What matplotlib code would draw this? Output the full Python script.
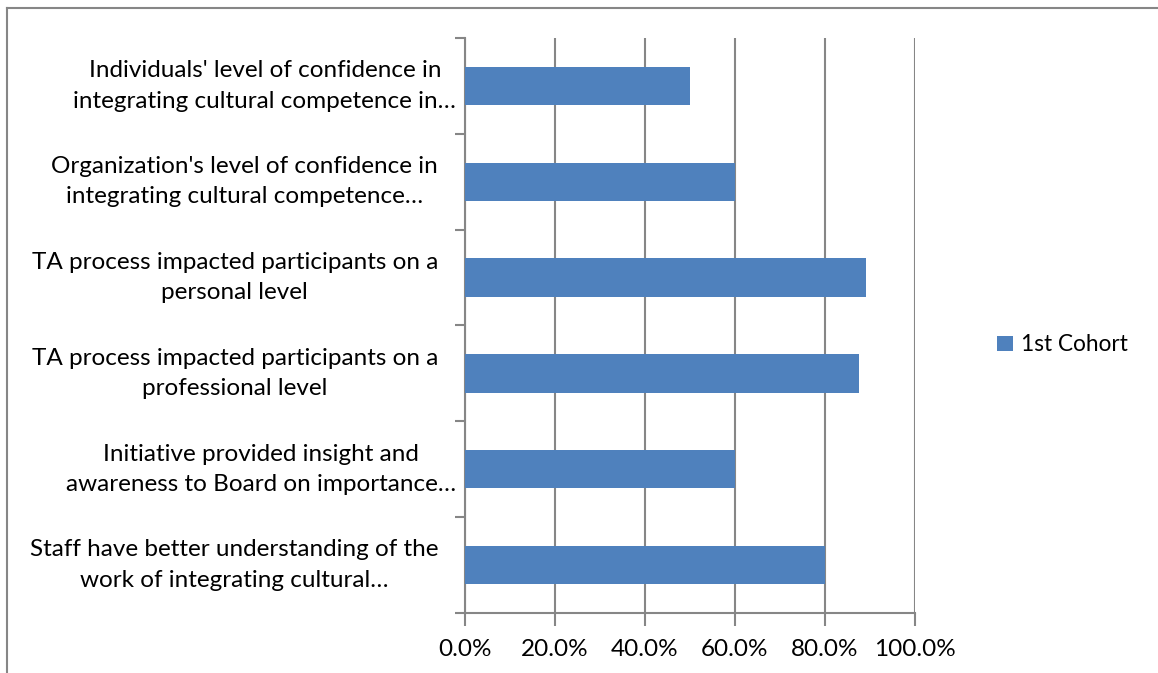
import numpy as np
import matplotlib.pyplot as plt
import matplotlib.transforms as mtransforms
from matplotlib.lines import Line2D
from matplotlib.ticker import FuncFormatter

plt.rcParams['font.family'] = ['Lato', 'DejaVu Sans']

# categories listed top to bottom, as in the chart
categories = [
    "Individuals' level of confidence in\nintegrating cultural competence in\u2026",
    "Organization's level of confidence in\nintegrating cultural competence\u2026",
    "TA process impacted participants on a\npersonal level",
    "TA process impacted participants on a\nprofessional level",
    "Initiative provided insight and\nawareness to Board on importance\u2026",
    "Staff have better understanding of the\nwork of integrating cultural\u2026",
]
cohort1 = [50.0, 60.0, 89.0, 87.5, 60.0, 80.0]
series_name = "1st Cohort"
xticks = [0, 20, 40, 60, 80, 100]

bar_color = "#4F81BD"
grid_color = "#868686"
fs = 17.5

fig = plt.figure(figsize=(11.58, 6.73), dpi=100)
ax = fig.add_axes([465 / 1158, 1 - 613 / 673, 450 / 1158, 575 / 673])

n = len(categories)
ypos = np.arange(n)[::-1]
ax.barh(ypos, cohort1, height=0.4, color=bar_color, label=series_name, zorder=3)

ax.set_xlim(0, 100)
ax.set_ylim(-0.5, n - 0.5)
ax.set_xticks(xticks)
ax.xaxis.set_major_formatter(FuncFormatter(lambda v, p: f"{v:.1f}%"))
ax.grid(axis='x', color=grid_color, linewidth=1.5, zorder=0)

ax.set_yticks(ypos)
ax.set_yticklabels([])
ax.set_yticks(np.arange(-0.5, n, 1.0), minor=True)
ax.tick_params(axis='y', which='major', length=0)
ax.tick_params(axis='y', which='minor', length=7, width=1.5, color=grid_color)
ax.tick_params(axis='x', length=9, width=1.5, color=grid_color, labelsize=fs, pad=10)

# category labels: right edge 27px left of the axis, trailing ellipsis allowed to hang out
renderer = fig.canvas.get_renderer()
base = mtransforms.blended_transform_factory(ax.transAxes, ax.transData)
for y, lab in zip(ypos, categories):
    t_full = fig.text(0, 0, lab, fontsize=fs, multialignment='center')
    t_trim = fig.text(0, 0, lab.replace("\u2026", ""), fontsize=fs, multialignment='center')
    hang = t_full.get_window_extent(renderer).width - t_trim.get_window_extent(renderer).width
    t_full.remove()
    t_trim.remove()
    off = mtransforms.ScaledTranslation((-27 + hang) / 100, 0, fig.dpi_scale_trans)
    ax.text(0, y, lab, transform=base + off, ha='right', va='center',
            multialignment='center', fontsize=fs, linespacing=1.55)

for s in ['top', 'right']:
    ax.spines[s].set_visible(False)
for s in ['left', 'bottom']:
    ax.spines[s].set_color(grid_color)
    ax.spines[s].set_linewidth(1.5)

ax.legend(loc='center left', bbox_to_anchor=(990 / 1158, 1 - 345 / 673),
          bbox_transform=fig.transFigure, frameon=False, fontsize=16.3,
          handlelength=0.7, handleheight=0.7, handletextpad=0.35,
          borderaxespad=0, borderpad=0.3)

# outer chart border (left and top edges visible)
fig.add_artist(Line2D([7 / 1158, 7 / 1158], [0, 1 - 8 / 673], transform=fig.transFigure,
                      color=grid_color, linewidth=1.5))
fig.add_artist(Line2D([7 / 1158, 1], [1 - 8 / 673, 1 - 8 / 673], transform=fig.transFigure,
                      color=grid_color, linewidth=1.5))

fig.savefig("out.png", dpi=100)
